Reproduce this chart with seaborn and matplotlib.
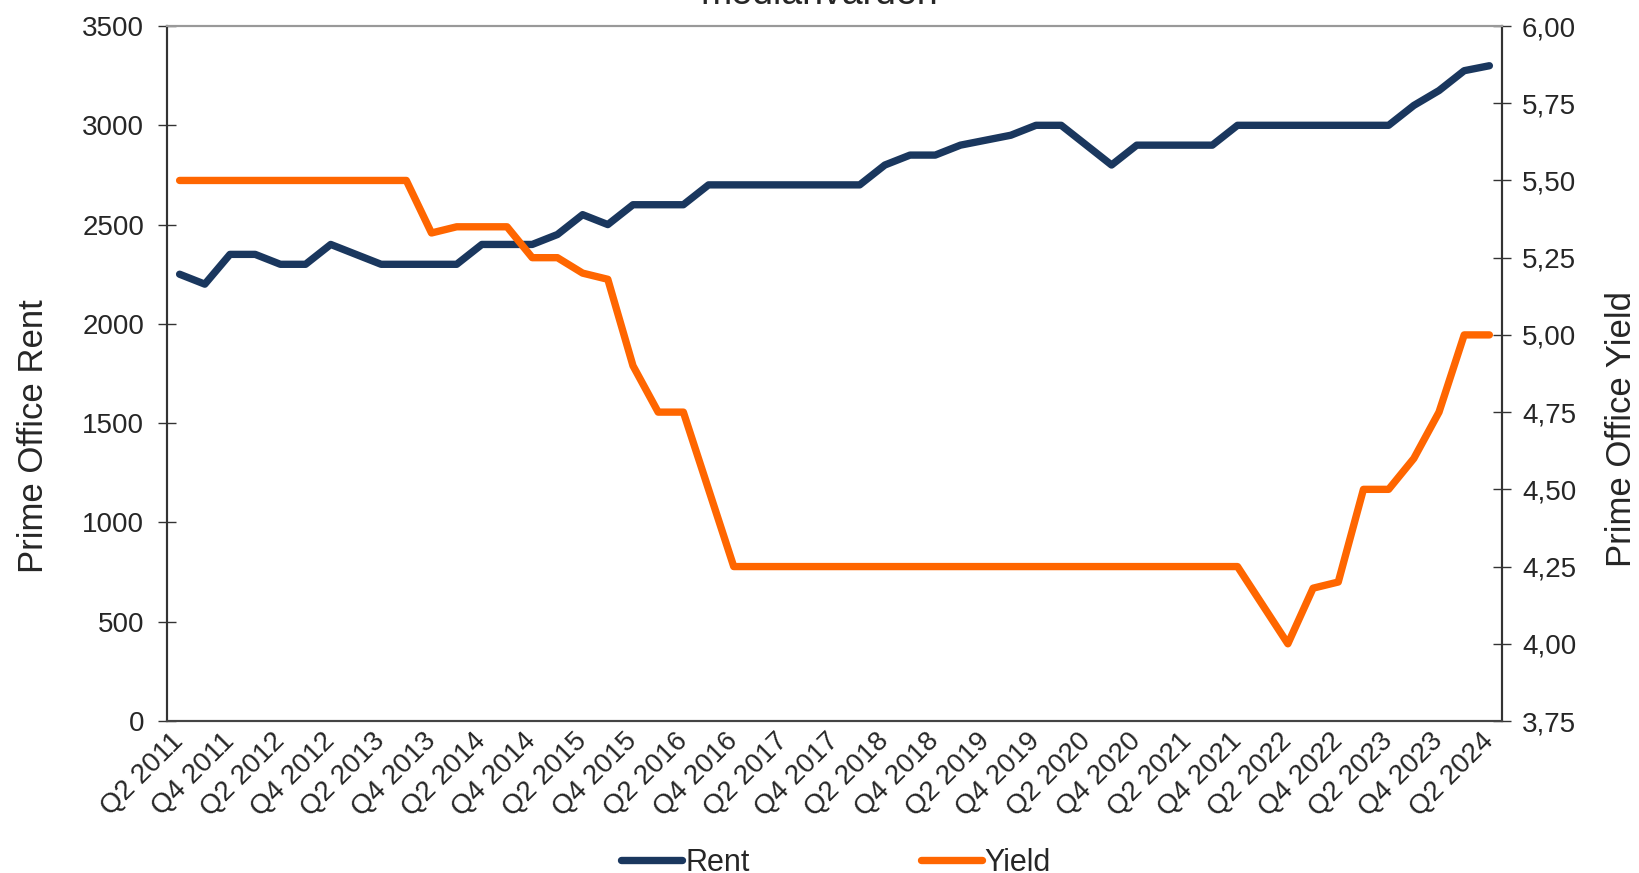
import numpy as np
import pandas as pd
import matplotlib
matplotlib.use("Agg")
import matplotlib.pyplot as plt
from matplotlib.ticker import FixedLocator, FuncFormatter
from matplotlib.transforms import ScaledTranslation
import seaborn as sns

# Quarterly data, Q2 2011 - Q2 2024
years = list(range(2011, 2025))
quarters = [f"Q{q} {y}" for y in years for q in range(1, 5)]
quarters = quarters[quarters.index("Q2 2011"):quarters.index("Q2 2024") + 1]

rent = [2250, 2200, 2350, 2350, 2300, 2300, 2400, 2350, 2300, 2300,
        2300, 2300, 2400, 2400, 2400, 2450, 2550, 2500, 2600, 2600,
        2600, 2700, 2700, 2700, 2700, 2700, 2700, 2700, 2800, 2850,
        2850, 2900, 2925, 2950, 3000, 3000, 2900, 2800, 2900, 2900,
        2900, 2900, 3000, 3000, 3000, 3000, 3000, 3000, 3000, 3100,
        3175, 3275, 3300]

yld = [5.50, 5.50, 5.50, 5.50, 5.50, 5.50, 5.50, 5.50, 5.50, 5.50,
       5.33, 5.35, 5.35, 5.35, 5.25, 5.25, 5.20, 5.18, 4.90, 4.75,
       4.75, 4.50, 4.25, 4.25, 4.25, 4.25, 4.25, 4.25, 4.25, 4.25,
       4.25, 4.25, 4.25, 4.25, 4.25, 4.25, 4.25, 4.25, 4.25, 4.25,
       4.25, 4.25, 4.25, 4.125, 4.00, 4.18, 4.20, 4.50, 4.50, 4.60,
       4.75, 5.00, 5.00]

df = pd.DataFrame({"quarter": quarters, "pos": np.arange(len(quarters)),
                   "Rent": rent, "Yield": yld})

NAVY = "#1A375E"
ORANGE = "#FF6600"

sns.set_style("white")
plt.rcParams["font.family"] = ["Liberation Sans", "DejaVu Sans"]
plt.rcParams["font.size"] = 20

fig = plt.figure(figsize=(16.39, 8.73), dpi=100)
ax = fig.add_axes([0.1019, 0.1741, 0.8145, 0.7961])
ax2 = ax.twinx()

sns.lineplot(data=df, x="pos", y="Rent", ax=ax, color=NAVY, linewidth=5.3,
             solid_capstyle="round", label="Rent", legend=False)
sns.lineplot(data=df, x="pos", y="Yield", ax=ax2, color=ORANGE, linewidth=5.3,
             solid_capstyle="round", label="Yield", legend=False)

n = len(quarters)
ax.set_xlim(-0.5, n - 0.5)
ax.set_ylim(0, 3500)
ax2.set_ylim(3.75, 6.0)
ax.set_yticks(np.arange(0, 3501, 500))
ax2.set_yticks(np.arange(3.75, 6.01, 0.25))
ax2.yaxis.set_major_formatter(FuncFormatter(lambda v, p: f"{v:.2f}".replace(".", ",")))

ax.tick_params(axis="x", which="major", length=0, pad=5, labelsize=20)
ax.tick_params(axis="x", which="minor", length=18, direction="inout", color="#333333", width=1)
ax.tick_params(axis="y", length=13, direction="inout", width=1, color="#333333", pad=10, labelsize=20)
ax2.tick_params(axis="y", length=13, direction="inout", width=1, color="#333333", pad=8, labelsize=20)

# labels on every second quarter, tick marks on the category boundaries
label_pos = list(range(0, n, 2))
ax.set_xticks(label_pos)
ax.set_xticklabels([quarters[i] for i in label_pos], rotation=45, ha="right",
                   rotation_mode="anchor")
ax.xaxis.set_minor_locator(FixedLocator([i - 0.5 for i in label_pos]))

ax.set_xlabel("")
ax.set_ylabel("Prime Office Rent", fontsize=25)
ax2.set_ylabel("Prime Office Yield", fontsize=25)
ax.yaxis.set_label_coords(-0.088, 0.41)
ax2.yaxis.set_label_coords(1.077, 0.42)

for a in (ax, ax2):
    a.spines["left"].set_color("#333333")
    a.spines["right"].set_color("#333333")
    a.spines["bottom"].set_color("#444444")
    a.spines["top"].set_color("#999999")
    for s in a.spines.values():
        s.set_linewidth(1.5)
    a.grid(False)

fig.text(0.5, 1 - 4 / 873, "medianvärden", ha="center", va="baseline", fontsize=27)

h1, l1 = ax.get_legend_handles_labels()
h2, l2 = ax2.get_legend_handles_labels()
fig.legend(h1 + h2, l1 + l2, loc="center", bbox_to_anchor=(0.51, 0.012), ncol=2,
           frameon=False, fontsize=22, handlelength=2.0, handletextpad=0.1,
           columnspacing=5.6)

# nudge the rotated quarter labels left so they end at their point
shift = ScaledTranslation(-0.09, 0, fig.dpi_scale_trans)
for tick in ax.xaxis.get_major_ticks():
    tick.label1.set_transform(tick.label1.get_transform() + shift)

fig.savefig("out.png", dpi=100)
